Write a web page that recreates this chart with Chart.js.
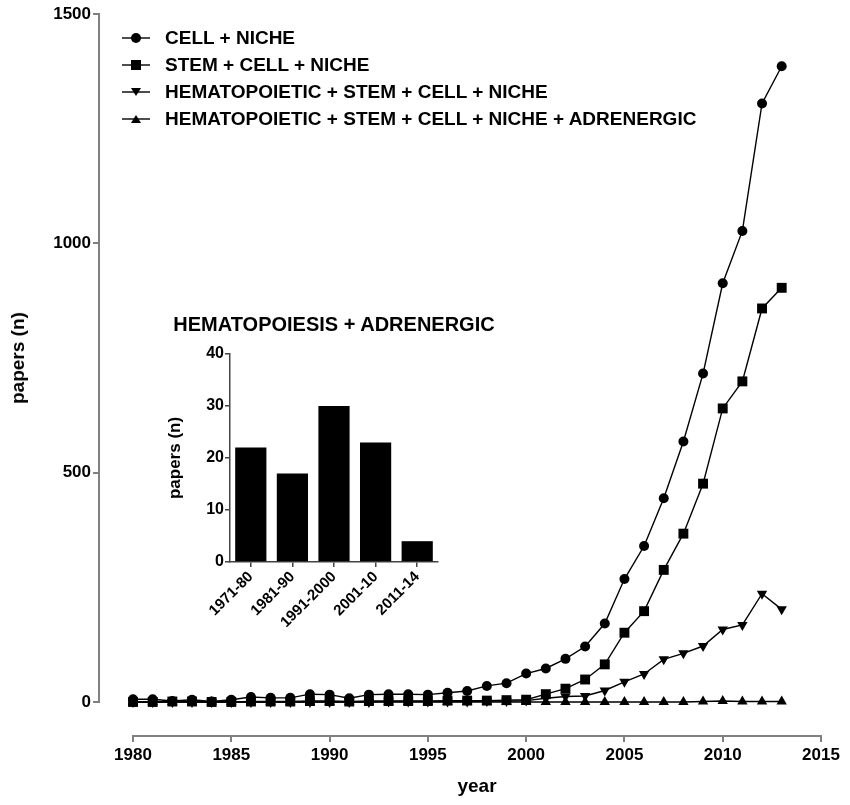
<!DOCTYPE html>
<html>
<head>
<meta charset="utf-8">
<script src="https://cdn.jsdelivr.net/npm/chart.js@4.4.0/dist/chart.umd.min.js"></script>
<style>
html,body{margin:0;padding:0;background:#fff;}
#wrap{position:relative;width:850px;height:805px;overflow:hidden;font-family:Arial,"Liberation Sans",sans-serif;}
#main{position:absolute;left:0;top:0;width:850px;height:805px;}
#inset{position:absolute;left:150px;top:330px;width:300px;height:310px;}
#legend{position:absolute;left:122px;top:24px;font-weight:bold;font-size:19px;color:#000;}
.row{height:27px;line-height:27px;display:flex;align-items:center;white-space:nowrap;}
.row svg{margin-right:15px;}
.lbl{position:absolute;font-weight:bold;color:#000;white-space:nowrap;}
#ytitle{left:18px;top:358px;font-size:19px;transform:translate(-50%,-50%) rotate(-90deg);}
#xtitle{left:477px;top:786px;font-size:19px;transform:translate(-50%,-50%);}
#itTitle{left:334px;top:324px;font-size:20px;transform:translate(-50%,-50%);}
</style>
</head>
<body>
<div id="wrap">
<canvas id="main" width="850" height="805"></canvas>
<canvas id="inset" width="300" height="310"></canvas>
<div id="legend"></div>
<div class="lbl" id="ytitle">papers (n)</div>
<div class="lbl" id="xtitle">year</div>
<div class="lbl" id="itTitle">HEMATOPOIESIS + ADRENERGIC</div>
</div>
<script>
// ---- data ----
const years = [1980,1981,1982,1983,1984,1985,1986,1987,1988,1989,
               1990,1991,1992,1993,1994,1995,1996,1997,1998,1999,
               2000,2001,2002,2003,2004,2005,2006,2007,2008,2009,
               2010,2011,2012,2013];
const cellNiche = [6,6,2,5,1,5,11,9,9,17,
                   16,8,16,17,17,16,20,24,35,41,
                   62,73,94,121,171,268,340,444,568,716,
                   913,1027,1305,1386];
const stemCellNiche = [0,0,1,1,0,0,1,1,1,2,
                       2,1,2,2,2,2,3,3,3,4,
                       5,17,29,49,82,151,198,288,367,476,
                       640,699,858,903];
const hscNiche = [0,0,0,0,0,0,0,0,0,0,
                  0,0,0,1,1,1,1,1,2,2,
                  3,8,12,13,25,44,61,93,106,122,
                  158,168,236,202];
const hscNicheAdrenergic = [0,0,0,0,0,0,0,0,0,0,
                            0,0,0,0,0,0,0,0,0,0,
                            0,0,0,0,0,0,0,0,0,1,
                            2,1,1,1];
const seriesLabels = ['CELL + NICHE','STEM + CELL + NICHE',
  'HEMATOPOIETIC + STEM + CELL + NICHE','HEMATOPOIETIC + STEM + CELL + NICHE + ADRENERGIC'];
const xTicks = [1980,1985,1990,1995,2000,2005,2010,2015];
const yTicks = [0,500,1000,1500];

const insetLabels = ['1971-80','1981-90','1991-2000','2001-10','2011-14'];
const insetValues = [22,17,30,23,4];
const insetTicks = [0,10,20,30,40];

// ---- styles ----
const FONT = 'Arial, "Liberation Sans", sans-serif';
const axisGray = '#808080';
const insetAxis = '#444444';

const pts = arr => years.map((yr, i) => ({x: yr, y: arr[i]}));
const markers = [
  {style:'circle', radius:5, rot:0},
  {style:'rect', radius:7, rot:0},
  {style:'triangle', radius:6, rot:180},
  {style:'triangle', radius:6, rot:0}
];
const seriesData = [cellNiche, stemCellNiche, hscNiche, hscNicheAdrenergic];

const datasets = seriesData.map((arr, i) => ({
  label: seriesLabels[i],
  data: pts(arr),
  borderColor: '#000',
  backgroundColor: '#000',
  borderWidth: 1.4,
  pointStyle: markers[i].style,
  pointRadius: markers[i].radius,
  pointRotation: markers[i].rot,
  pointBorderWidth: 0,
  pointBackgroundColor: '#000',
  tension: 0,
  fill: false
}));

const offsetAxes = {
  id: 'offsetAxes',
  afterDraw(chart) {
    const {ctx, scales: {x, y}} = chart;
    ctx.save();
    ctx.strokeStyle = axisGray;
    ctx.lineWidth = 2;
    const yTop = y.getPixelForValue(yTicks[yTicks.length - 1]);
    const yBot = y.getPixelForValue(yTicks[0]);
    const ax = chart.chartArea.left - 1;
    ctx.beginPath();
    ctx.moveTo(ax, yTop - 1);
    ctx.lineTo(ax, yBot + 1);
    ctx.stroke();
    const xl = x.getPixelForValue(xTicks[0]);
    const xr = x.getPixelForValue(xTicks[xTicks.length - 1]);
    const ay = chart.chartArea.bottom + 1;
    ctx.beginPath();
    ctx.moveTo(xl - 1, ay);
    ctx.lineTo(xr + 1, ay);
    ctx.stroke();
    ctx.restore();
  }
};

new Chart(document.getElementById('main'), {
  type: 'line',
  data: {datasets},
  options: {
    responsive: false,
    animation: false,
    devicePixelRatio: 1,
    layout: {padding: {top: 14, right: 29, left: 0, bottom: 0}},
    plugins: {legend: {display: false}, tooltip: {enabled: false}},
    scales: {
      x: {
        type: 'linear', min: 1978.32, max: 2015,
        afterBuildTicks: s => { s.ticks = xTicks.map(v => ({value: v})); },
        afterFit: s => { s.height = 70; },
        grid: {drawOnChartArea: false, drawTicks: true, tickLength: 7, color: axisGray, lineWidth: 2},
        border: {display: false},
        ticks: {font: {family: FONT, size: 17, weight: 'bold'}, color: '#000', padding: 3,
                maxRotation: 0, autoSkip: false, callback: v => String(v)}
      },
      y: {
        type: 'linear', min: -72, max: 1500,
        afterBuildTicks: s => { s.ticks = yTicks.map(v => ({value: v})); },
        afterFit: s => { s.width = 100; },
        grid: {drawOnChartArea: false, drawTicks: true, tickLength: 7, color: axisGray, lineWidth: 2},
        border: {display: false},
        ticks: {font: {family: FONT, size: 17, weight: 'bold'}, color: '#000', padding: 2,
                autoSkip: false, callback: v => String(v)}
      }
    }
  },
  plugins: [offsetAxes]
});

// legend (HTML)
const legend = document.getElementById('legend');
datasets.forEach((ds, i) => {
  const m = markers[i];
  let shape = '';
  if (m.style === 'circle') shape = '<circle cx="14" cy="10" r="5" fill="#000"/>';
  else if (m.style === 'rect') shape = '<rect x="9" y="5" width="10" height="10" fill="#000"/>';
  else if (m.rot === 180) shape = '<polygon points="9,6 19,6 14,14" fill="#000"/>';
  else shape = '<polygon points="9,14 19,14 14,6" fill="#000"/>';
  const row = document.createElement('div');
  row.className = 'row';
  row.innerHTML = '<svg width="28" height="20" viewBox="0 0 28 20"><line x1="0" y1="10" x2="28" y2="10" stroke="#000" stroke-width="1.4"/>' + shape + '</svg><span>' + ds.label + '</span>';
  legend.appendChild(row);
});

// inset bar chart
new Chart(document.getElementById('inset'), {
  type: 'bar',
  data: {
    labels: insetLabels,
    datasets: [{data: insetValues, backgroundColor: '#000', borderWidth: 0,
                barPercentage: 0.75, categoryPercentage: 1.0}]
  },
  options: {
    responsive: false,
    animation: false,
    devicePixelRatio: 1,
    layout: {padding: {top: 24, right: 12, left: 0, bottom: 0}},
    plugins: {legend: {display: false}, tooltip: {enabled: false}},
    scales: {
      x: {
        afterFit: s => { s.height = 78; },
        grid: {offset: false, drawOnChartArea: false, drawTicks: true, tickLength: 5, color: insetAxis, lineWidth: 1.5},
        border: {display: true, color: insetAxis, width: 1.5},
        ticks: {font: {family: FONT, size: 15, weight: 'bold'}, color: '#000', padding: 1,
                minRotation: 45, maxRotation: 45, autoSkip: false}
      },
      y: {
        min: 0, max: 40,
        afterBuildTicks: s => { s.ticks = insetTicks.map(v => ({value: v})); },
        afterFit: s => { s.width = 80; },
        grid: {drawOnChartArea: false, drawTicks: true, tickLength: 5, color: insetAxis, lineWidth: 1.5},
        border: {display: true, color: insetAxis, width: 1.5},
        ticks: {font: {family: FONT, size: 16, weight: 'bold'}, color: '#000', padding: 1, autoSkip: false},
        title: {display: true, text: 'papers (n)', color: '#000',
                font: {family: FONT, size: 17, weight: 'bold'}, padding: {top: 15, bottom: 0}}
      }
    }
  }
});
</script>
</body>
</html>
